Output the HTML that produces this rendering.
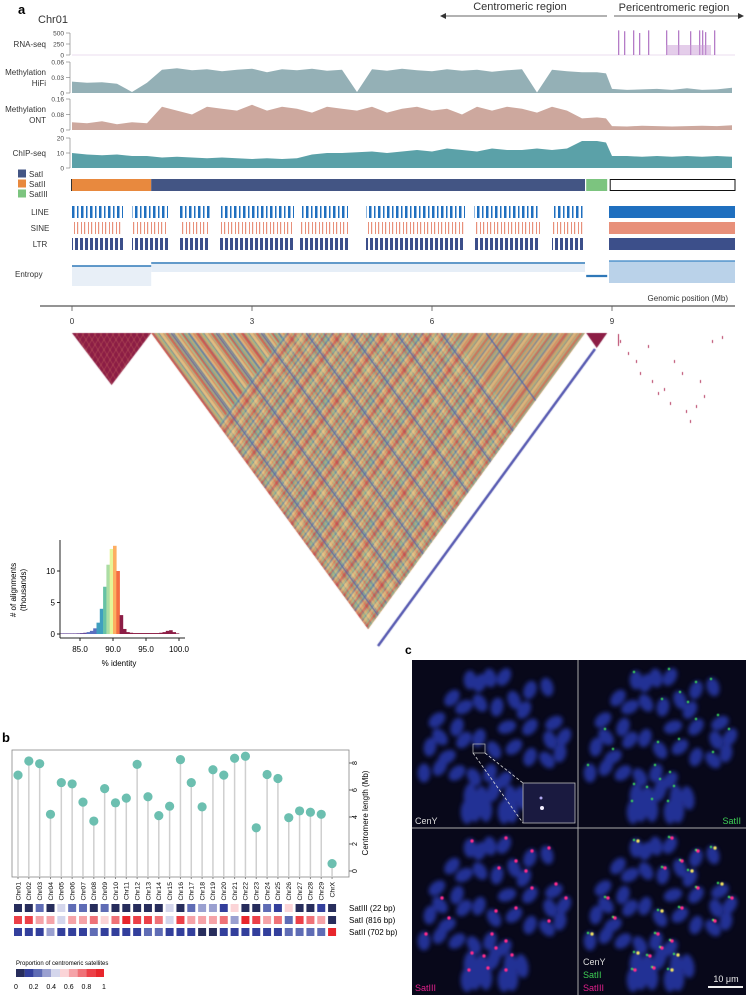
<!DOCTYPE html>
<html><head><meta charset="utf-8">
<style>
html,body{margin:0;padding:0;background:#fff;}
#root{position:relative;width:746px;height:995px;overflow:hidden;font-family:"Liberation Sans",sans-serif;}
svg text{font-family:"Liberation Sans",sans-serif;}
canvas{position:absolute;left:0;top:0;}
</style></head>
<body>
<div id="root">
<canvas id="tri" width="746" height="700"></canvas>
<svg id="svg" width="746" height="995" style="position:absolute;left:0;top:0">
 <defs>
  <filter id="blur" x="-50%" y="-50%" width="200%" height="200%"><feGaussianBlur stdDeviation="2"/></filter>
  <filter id="blur2" x="-50%" y="-50%" width="200%" height="200%"><feGaussianBlur stdDeviation="0.6"/></filter>
  <pattern id="pLINE" width="9" height="12" patternUnits="userSpaceOnUse"><rect x="0" y="0" width="2.5" height="12" fill="#1f6fbf"/><rect x="5" y="0" width="1.5" height="12" fill="#1f6fbf"/></pattern>
  <pattern id="pSINE" width="7" height="12" patternUnits="userSpaceOnUse"><rect x="0" y="0" width="1.2" height="12" fill="#e8907a"/><rect x="4" y="0" width="1" height="12" fill="#e8907a"/></pattern>
  <pattern id="pLTR" width="5" height="12" patternUnits="userSpaceOnUse"><rect x="0" y="0" width="3" height="12" fill="#3c4f8a"/></pattern>
 </defs>
 <g id="panelA"></g>
 <g id="hist"></g>
 <g id="panelB"></g>
 <g id="panelC"></g>
</svg>
</div>
<script>
// ---------- DATA ----------
const hifiPos = [0,0.25,0.5,0.75,1.0,1.25,1.5,1.75,2,2.25,2.5,2.75,3,3.25,3.5,3.75,4,4.25,4.5,4.75,5,5.25,5.5,5.75,6,6.25,6.5,6.75,7,7.25,7.5,7.75,8,8.25,8.5,8.75,8.9,9,9.25,9.5,9.75,10,10.25,10.5,10.75,11];
const hifiVals = [0.022,0.020,0.021,0.018,0.002,0.020,0.045,0.048,0.044,0.046,0.042,0.045,0.047,0.040,0.046,0.044,0.047,0.043,0.045,0.002,0.046,0.043,0.047,0.044,0.042,0.046,0.043,0.045,0.041,0.044,0.046,0.001,0.045,0.042,0.040,0.040,0.038,0.008,0.006,0.007,0.008,0.006,0.009,0.006,0.007,0.010];
const ontVals = [0.04,0.035,0.045,0.03,0.04,0.035,0.12,0.10,0.08,0.12,0.11,0.10,0.13,0.10,0.12,0.11,0.09,0.12,0.11,0.10,0.12,0.09,0.11,0.12,0.10,0.11,0.08,0.12,0.10,0.12,0.11,0.09,0.12,0.10,0.06,0.065,0.06,0.02,0.018,0.022,0.02,0.018,0.02,0.022,0.02,0.025];
const chipVals = [10,9,8.5,9,8,8,7,7.5,7,6.5,7,6.5,6,6.5,6,6.5,9,10,10,10.5,11,10,11,12,11,13,12,11,13,12,12,13,12,13,18,18,17,8,8,7.5,8,7.5,8,7.5,8,7.5];
const rnaPos = [9.1,9.2,9.35,9.45,9.6,9.9,10.1,10.3,10.45,10.5,10.55,10.7];
const rnaVals = [560,540,560,500,560,560,560,540,560,560,520,560];
const satSegments = [["SatII",0,1.32],["SatI",1.32,8.55],["SatIII",8.57,8.92]];
const lineGaps = [[0.85,1.0],[1.6,1.8],[2.3,2.45],[3.7,3.8],[4.6,4.9],[6.55,6.7],[7.8,8.0]];
const identBins = [82,82.5,83,83.5,84,84.5,85,85.5,86,86.5,87,87.5,88,88.5,89,89.5,90,90.5,91,91.5,92,92.5,93,94,95,96,97,97.5,98,98.5,99,99.5];
const identCounts = [0.1,0.1,0.1,0.1,0.1,0.12,0.15,0.2,0.3,0.5,0.9,1.8,4,7.5,11,13.5,14,10,3,0.8,0.3,0.2,0.15,0.15,0.15,0.15,0.2,0.3,0.5,0.6,0.3,0.1];
const histXTicks = [85,90,95,100];
const histYTicks = [0,5,10];
const chrNames = ["Chr01","Chr02","Chr03","Chr04","Chr05","Chr06","Chr07","Chr08","Chr09","Chr10","Chr11","Chr12","Chr13","Chr14","Chr15","Chr16","Chr17","Chr18","Chr19","Chr20","Chr21","Chr22","Chr23","Chr24","Chr25","Chr26","Chr27","Chr28","Chr29","ChrX"];
const cenLength = [7.1,8.15,7.95,4.2,6.55,6.45,5.1,3.7,6.1,5.05,5.4,7.9,5.5,4.1,4.8,8.25,6.55,4.75,7.5,7.1,8.35,8.5,3.2,7.15,6.85,3.95,4.45,4.35,4.2,0.55];
const propSatIII = [0,0,0.2,0,0.4,0.2,0.2,0,0.2,0,0,0,0,0,0.4,0,0.2,0.3,0.3,0.1,0.5,0,0,0.2,0.1,0.5,0,0,0.1];
const propSatI = [0.85,0.8,0.6,0.6,0.4,0.6,0.6,0.7,0.5,0.7,0.95,0.8,0.8,0.7,0.4,0.8,0.6,0.6,0.6,0.7,0.3,0.95,0.8,0.6,0.7,0.2,0.8,0.7,0.6];
const propSatII = [0.1,0.1,0.1,0.3,0.1,0.1,0.1,0.2,0.1,0.1,0.1,0.1,0.2,0.2,0.1,0.1,0.1,0,0,0.1,0.1,0.1,0.1,0.1,0.1,0.2,0.2,0.2,0.2];
const rowLabels = ["SatIII (22 bp)","SatI (816 bp)","SatII (702 bp)"];
const rowLegendVal = [0,0,0.95];
const lenTicks = [0,2,4,6,8];
const mbTicks = [0,3,6,9];

// ---------- helpers ----------
const NS="http://www.w3.org/2000/svg";
function mk(parent,tag,attrs,text){const e=document.createElementNS(NS,tag);for(const k in attrs)e.setAttribute(k,attrs[k]);if(text!==undefined)e.textContent=text;parent.appendChild(e);return e;}
const X = mb => 72 + 60*mb;
const A = document.getElementById('panelA');

let t;
t=mk(A,'text',{x:18,y:14,'font-size':13,'font-weight':'bold'},'a');
t=mk(A,'text',{x:38,y:23,'font-size':11,fill:'#333'},'Chr01');
t=mk(A,'text',{x:520,y:10,'font-size':11,'text-anchor':'middle',fill:'#333'},'Centromeric region');
t=mk(A,'text',{x:674,y:11,'font-size':11,'text-anchor':'middle',fill:'#333'},'Pericentromeric region');
mk(A,'line',{x1:446,y1:16,x2:607,y2:16,stroke:'#333','stroke-width':0.8});
mk(A,'path',{d:'M440,16 l6,-3 v6 z',fill:'#333'});
mk(A,'line',{x1:614,y1:16,x2:738,y2:16,stroke:'#333','stroke-width':0.8});
mk(A,'path',{d:'M744,16 l-6,-3 v6 z',fill:'#333'});

function yAxis(ticks,labels,y0,y1,vmax){
  mk(A,'line',{x1:70,y1:y1,x2:70,y2:y0,stroke:'#777','stroke-width':0.6});
  ticks.forEach((v,i)=>{const y=y0-(y0-y1)*v/vmax;mk(A,'line',{x1:66,y1:y,x2:70,y2:y,stroke:'#777','stroke-width':0.6});
   const tt=mk(A,'text',{x:64,y:y+2.5,'font-size':6.5,'text-anchor':'end',fill:'#444'},labels[i]);});
}
function area(pos,vals,y0,y1,vmax,color,name){
  let d='M'+X(pos[0])+','+y0;
  pos.forEach((p,i)=>{d+=' L'+X(p).toFixed(1)+','+(y0-(y0-y1)*Math.min(vals[i],vmax)/vmax).toFixed(1);});
  d+=' L'+X(pos[pos.length-1])+','+y0+' Z';
  const e=mk(A,'path',{d:d,fill:color});
}
function lbl(x,y,s,anchor,name){const e=mk(A,'text',{x:x,y:y,'font-size':8,'text-anchor':anchor,fill:'#333'},s);}

yAxis([0,250,500],['0','250','500'],55,33,500);
mk(A,'line',{x1:72,y1:55,x2:735,y2:55,stroke:'#e4d0ea','stroke-width':0.8});
rnaPos.forEach((p,i)=>{const h=22*Math.min(rnaVals[i],560)/500;const r=mk(A,'rect',{x:X(p),y:55-h,width:1.3,height:h,fill:'#b57cc7'});});
mk(A,'rect',{x:X(9.9),y:45,width:X(10.65)-X(9.9),height:10,fill:'#c99bd6',opacity:0.5});
lbl(46,47,'RNA-seq','end','rna-seq-label');
yAxis([0,0.03,0.06],['0','0.03','0.06'],93,62,0.06);
area(hifiPos,hifiVals,93,62,0.06,'#94b0b6','methylation-hifi-area');
lbl(46,75,'Methylation','end','methylation-hifi-label');lbl(46,86,'HiFi','end','methylation-hifi-label-2');
yAxis([0,0.08,0.16],['0','0.08','0.16'],130,99,0.16);
area(hifiPos,ontVals,130,99,0.16,'#cda89e','methylation-ont-area');
lbl(46,112,'Methylation','end','methylation-ont-label');lbl(46,123,'ONT','end','methylation-ont-label-2');
yAxis([0,10,20],['0','10','20'],168,138,20);
area(hifiPos,chipVals,168,138,20,'#5ba1a8','chip-seq-area');
lbl(46,156,'ChIP-seq','end','chip-seq-label');

const satColor={SatI:'#435584',SatII:'#e8893e',SatIII:'#7cc47f'};
mk(A,'rect',{x:71,y:179,width:1.5,height:12,fill:'#333'});
satSegments.forEach(s=>{const r=mk(A,'rect',{x:X(s[1]),y:179,width:X(s[2])-X(s[1]),height:12,fill:satColor[s[0]]});});
mk(A,'rect',{x:X(8.97),y:179.5,width:735-X(8.97),height:11,fill:'#fff',stroke:'#111','stroke-width':1});
[['SatI',174],['SatII',184],['SatIII',194]].forEach(s=>{
  const g=mk(A,'g',{});
  mk(g,'rect',{x:18,y:s[1]-4.5,width:8,height:8,fill:satColor[s[0]]});
  mk(g,'text',{x:29,y:s[1]+3,'font-size':8,fill:'#333'},s[0]);});

[['LINE',206,'pLINE','#1f6fbf'],['SINE',222,'pSINE','#e8907a'],['LTR',238,'pLTR','#3c4f8a']].forEach(r=>{
  const g=mk(A,'g',{});
  mk(g,'rect',{x:72,y:r[1],width:X(8.55)-72,height:12,fill:'url(#'+r[2]+')'});
  lineGaps.forEach(gp=>mk(g,'rect',{x:X(gp[0]),y:r[1],width:X(gp[1])-X(gp[0]),height:12,fill:'#fff'}));
  mk(g,'rect',{x:X(8.95),y:r[1],width:735-X(8.95),height:12,fill:r[3]});
  lbl(40,r[1]+9,r[0],'middle',r[0].toLowerCase()+'-label');});
(function(){const g=mk(A,'g',{});
 mk(g,'rect',{x:72,y:266,width:X(1.32)-72,height:20,fill:'#e8eff7'});
 mk(g,'rect',{x:X(1.32),y:264,width:X(8.55)-X(1.32),height:8,fill:'#e6eef7'});
 mk(g,'line',{x1:72,y1:266,x2:X(1.32),y2:266,stroke:'#2f78b8','stroke-width':1.6});
 mk(g,'line',{x1:X(1.32),y1:263,x2:X(8.55),y2:263,stroke:'#2f78b8','stroke-width':1.6});
 mk(g,'line',{x1:X(8.57),y1:276,x2:X(8.92),y2:276,stroke:'#2f78b8','stroke-width':2.2});
 mk(g,'rect',{x:X(8.95),y:261,width:735-X(8.95),height:22,fill:'#8cb4da',opacity:0.6});
 mk(g,'line',{x1:X(8.95),y1:261,x2:735,y2:261,stroke:'#3b84c4','stroke-width':1.2});
 lbl(15,277,'Entropy','start','entropy-label');})();
lbl(728,301,'Genomic position (Mb)','end','x-axis-title');
mk(A,'line',{x1:40,y1:306,x2:735,y2:306,stroke:'#555','stroke-width':1.2});
mbTicks.forEach(m=>{mk(A,'line',{x1:X(m),y1:306,x2:X(m),y2:311,stroke:'#555','stroke-width':0.8});
  const e=mk(A,'text',{x:X(m),y:324,'font-size':8,'text-anchor':'middle',fill:'#333'},String(m));});

// ---------- triangles (canvas texture, decorative) ----------
(function(){
 const c=document.getElementById('tri').getContext('2d');
 function tri(x1,x2,yTop,apexX,apexY){c.beginPath();c.moveTo(x1,yTop);c.lineTo(x2,yTop);c.lineTo(apexX,apexY);c.closePath();}
 c.save();tri(X(0),X(1.32),333,(X(0)+X(1.32))/2,385);c.clip();c.fillStyle='#8c1d45';c.fillRect(60,330,100,60);
 c.strokeStyle='rgba(240,160,120,0.45)';c.lineWidth=0.6;for(let i=0;i<14;i++){c.beginPath();c.moveTo(70+i*6,333);c.lineTo(70+i*6+40,400);c.stroke();c.beginPath();c.moveTo(150-i*6,333);c.lineTo(110-i*6,400);c.stroke();}
 c.restore();
 const bx1=X(1.32),bx2=X(8.55),ax=(bx1+bx2)/2,ay=333+(bx2-bx1)/2*1.365;
 c.save();tri(bx1,bx2,333,ax,ay);c.clip();
 c.fillStyle='#c59a6c';c.fillRect(140,330,450,320);
 const cols=['#d9584a','#f0a060','#e8d08a','#9ccfa0','#62b8a8','#4a6fb5','#e8845a','#c8404f','#8ec89a','#ecc78a'];
 for(let i=0;i<300;i++){const x=bx1+i*1.5-150;c.strokeStyle=cols[(i*7)%10];c.globalAlpha=0.7;c.lineWidth=(i%3)*0.6+0.8;
   c.beginPath();c.moveTo(x,333);c.lineTo(x+240,333+240*1.365);c.stroke();}
 for(let i=0;i<300;i++){const x=bx2-i*1.5+150;c.strokeStyle=cols[(i*3+1)%10];c.globalAlpha=0.5;c.lineWidth=((i*5)%3)*0.6+0.8;
   c.beginPath();c.moveTo(x,333);c.lineTo(x-240,333+240*1.365);c.stroke();}
 c.globalAlpha=0.8;c.strokeStyle='#4a5fb0';c.lineWidth=1.3;
 for(let i=0;i<8;i++){const x=bx1+20+i*45;c.beginPath();c.moveTo(x,333);c.lineTo(x+220,333+220*1.365);c.stroke();}
 c.restore();
 c.save();tri(X(8.57),X(8.92),333,(X(8.57)+X(8.92))/2,348);c.clip();c.fillStyle='#8c1d45';c.fillRect(580,330,40,20);c.restore();
 c.globalAlpha=1;c.strokeStyle='#5558b0';c.lineWidth=2.5;c.beginPath();c.moveTo(595,349);c.lineTo(378,646);c.stroke();
 c.fillStyle='#b0305a';
 [[620,340],[628,352],[636,360],[640,372],[648,345],[652,380],[658,392],[664,388],[670,402],[674,360],[682,372],[686,410],[690,420],[696,405],[700,380],[704,395],[712,340],[722,336]].forEach(p=>c.fillRect(p[0],p[1],1,3));
 c.fillRect(618,334,1,12);
})();

// ---------- histogram ----------
(function(){
 const H=document.getElementById('hist');
 const hx=v=>113+(v-90)*6.6, hy=v=>634-6.3*v;
 function spec(v){if(v<86)return '#6a4c9c';if(v<87.5)return '#5a6fbf';if(v<88.5)return '#3f9fbf';if(v<89)return '#66c2a5';if(v<89.5)return '#abdda4';if(v<90)return '#e6f598';if(v<90.5)return '#fdae61';if(v<91)return '#f46d43';return '#8c1d45';}
 identBins.forEach((b,i)=>{const nb=i<identBins.length-1?identBins[i+1]:b+0.5;const r=mk(H,'rect',{x:hx(b),y:hy(identCounts[i]),width:hx(nb)-hx(b)+0.3,height:634-hy(identCounts[i]),fill:spec(b)});});
 mk(H,'line',{x1:60,y1:540,x2:60,y2:638,stroke:'#222','stroke-width':1});
 mk(H,'line',{x1:60,y1:638,x2:185,y2:638,stroke:'#222','stroke-width':1});
 histYTicks.forEach(v=>{mk(H,'line',{x1:57,y1:hy(v),x2:60,y2:hy(v),stroke:'#222'});const e=mk(H,'text',{x:55,y:hy(v)+3,'font-size':8,'text-anchor':'end'},String(v));});
 histXTicks.forEach(v=>{mk(H,'line',{x1:hx(v),y1:638,x2:hx(v),y2:641,stroke:'#222'});const e=mk(H,'text',{x:hx(v),y:652,'font-size':8,'text-anchor':'middle'},v.toFixed(1));});
 let e=mk(H,'text',{x:119,y:666,'font-size':8,'text-anchor':'middle'},'% identity');
 e=mk(H,'text',{x:0,y:0,'font-size':8,'text-anchor':'middle',transform:'translate(16,590) rotate(-90)'},'# of alignments');
 e=mk(H,'text',{x:0,y:0,'font-size':8,'text-anchor':'middle',transform:'translate(26,590) rotate(-90)'},'(thousands)');
})();

// ---------- panel b ----------
(function(){
 const B=document.getElementById('panelB');
 const cx=i=>18+i*10.83, ly=v=>871-13.5*v;
 let e=mk(B,'text',{x:2,y:742,'font-size':13,'font-weight':'bold'},'b');
 mk(B,'rect',{x:12,y:750,width:337,height:127,fill:'none',stroke:'#888','stroke-width':0.8});
 lenTicks.forEach(v=>{mk(B,'line',{x1:349,y1:ly(v),x2:352,y2:ly(v),stroke:'#666'});e=mk(B,'text',{x:0,y:0,'font-size':7,'text-anchor':'middle',transform:'translate(357,'+ly(v)+') rotate(-90)'},String(v));});
 e=mk(B,'text',{x:0,y:0,'font-size':8,'text-anchor':'middle',transform:'translate(368,813) rotate(-90)'},'Centromere length (Mb)');
 chrNames.forEach((n,i)=>{
  const s=mk(B,'line',{x1:cx(i),y1:ly(cenLength[i]),x2:cx(i),y2:877,stroke:'#cfcfcf','stroke-width':1.5});
  const d=mk(B,'circle',{cx:cx(i),cy:ly(cenLength[i]),r:4.6,fill:'#6cbfb0'});
  mk(B,'line',{x1:cx(i),y1:877,x2:cx(i),y2:879,stroke:'#888'});
  const l=mk(B,'text',{x:0,y:0,'font-size':6.8,'text-anchor':'end',transform:'translate('+(cx(i)+2.3)+',882) rotate(-90)'},n);
 });
 const stops=['#272d5c','#333f9c','#5f6cb5','#9aa0d0','#d4d6ec','#fbd4d7','#f5a3a8','#ef7278','#ec4048','#e8262c'];
 const col=v=>stops[Math.min(9,Math.floor(v*10))];
 [propSatIII,propSatI,propSatII].forEach((row,r)=>{
  const y=904+r*12;
  row.forEach((v,i)=>{const q=mk(B,'rect',{x:cx(i)-4,y:y,width:8,height:8,fill:col(v)});});
  const q=mk(B,'rect',{x:cx(29)-4,y:y,width:8,height:8,fill:col(rowLegendVal[r])});
  e=mk(B,'text',{x:349,y:y+7,'font-size':8},rowLabels[r]);
 });
 e=mk(B,'text',{x:16,y:965,'font-size':6},'Proportion of centromeric satellites');
 stops.forEach((c,i)=>mk(B,'rect',{x:16+i*8.8,y:969,width:8.8,height:8,fill:c}));
 ['0','0.2','0.4','0.6','0.8','1'].forEach((s,i)=>{e=mk(B,'text',{x:16+i*17.6,y:989,'font-size':7,'text-anchor':'middle'},s);});
})();

// ---------- panel c (decorative FISH image) ----------
(function(){
 const C=document.getElementById('panelC');
 let e=mk(C,'text',{x:405,y:654,'font-size':12,'font-weight':'bold'},'c');
 const chrom=[[58,20,0],[68,23,20],[78,18,-10],[92,17,30],[118,30,20],[135,27,-15],[40,38,40],[52,47,60],[68,43,-30],[85,47,10],[102,40,-20],[112,50,30],[25,60,50],[45,67,20],[28,77,-40],[95,67,70],[118,67,40],[142,63,60],[152,77,30],[138,80,-20],[18,87,10],[35,97,60],[52,80,40],[67,78,20],[82,90,-30],[102,87,50],[118,97,20],[135,100,-40],[148,93,10],[28,107,30],[12,113,0],[45,113,50],[62,117,-30],[78,113,20],[92,120,40],[58,135,5],[70,138,-5],[82,130,15],[98,137,0],[110,138,-10],[55,152,0],[63,150,0],[74,150,0],[92,152,0],[100,151,0]];
 const greenIdx=[0,3,4,5,9,10,11,14,16,17,18,21,24,25,27,30,33,34,35,36,37,38,40,42,43];
 const quads=[[412,660,'none'],[578,660,'green'],[412,828,'mag'],[578,828,'both']];
 quads.forEach((q,qi)=>{
  const g=mk(C,'g',{transform:'translate('+q[0]+','+q[1]+')'});
  mk(g,'rect',{x:0,y:0,width:168,height:168,fill:'#08081a'});
  const cg=mk(g,'g',{filter:'url(#blur)',opacity:0.78});
  chrom.forEach(c=>mk(cg,'ellipse',{cx:c[0],cy:c[1],rx:6.3,ry:c[1]>128?12:9.5,fill:'#2a3cb8',transform:'rotate('+c[2]+','+c[0]+','+c[1]+')'}));
  if(q[2]!=='none'){const dg=mk(g,'g',{filter:'url(#blur2)'});
   greenIdx.forEach((k,j)=>{const c=chrom[k];const dy=(c[1]>128?-11:-8);
    if(q[2]==='green'||q[2]==='both')mk(dg,'circle',{cx:c[0]-2+(j%3),cy:c[1]+dy,r:1.2,fill:'#3de05a'});
    if(q[2]==='mag'||q[2]==='both')mk(dg,'circle',{cx:c[0]+2,cy:c[1]+dy+1,r:1.7,fill:q[2]==='both'&&j%3===0?'#f0e060':'#ff2a8a'});});}
 });
 mk(C,'line',{x1:578,y1:660,x2:578,y2:995,stroke:'#aaa','stroke-width':1});
 mk(C,'line',{x1:412,y1:828,x2:746,y2:828,stroke:'#aaa','stroke-width':1});
 mk(C,'rect',{x:473,y:744,width:12,height:9,fill:'none',stroke:'#bbb','stroke-width':0.7});
 mk(C,'line',{x1:473,y1:753,x2:523,y2:823,stroke:'#ddd','stroke-width':0.8,'stroke-dasharray':'3,2'});
 mk(C,'line',{x1:485,y1:753,x2:523,y2:783,stroke:'#ddd','stroke-width':0.8,'stroke-dasharray':'3,2'});
 e=mk(C,'rect',{x:523,y:783,width:52,height:40,fill:'#1a1a40',stroke:'#bbb','stroke-width':0.8});
 mk(C,'circle',{cx:541,cy:798,r:1.5,fill:'#b0a8f0'});mk(C,'circle',{cx:542,cy:808,r:2,fill:'#f4f0ff'});
 const lab=(x,y,s,c,a,n)=>{const t=mk(C,'text',{x:x,y:y,'font-size':9,fill:c,'text-anchor':a},s);};
 lab(415,824,'CenY','#ddd','start','cenY-label');
 lab(741,824,'SatII','#3ecf55','end','satII-label');
 lab(415,991,'SatIII','#e0208a','start','satIII-label');
 lab(583,965,'CenY','#ddd','start','merge-cenY-label');
 lab(583,978,'SatII','#3ecf55','start','merge-satII-label');
 lab(583,991,'SatIII','#e0208a','start','merge-satIII-label');
 lab(726,982,'10 μm','#eee','middle','scale-bar-label');
 mk(C,'rect',{x:708,y:986,width:35,height:2,fill:'#eee'});
})();
</script>
</body></html>
